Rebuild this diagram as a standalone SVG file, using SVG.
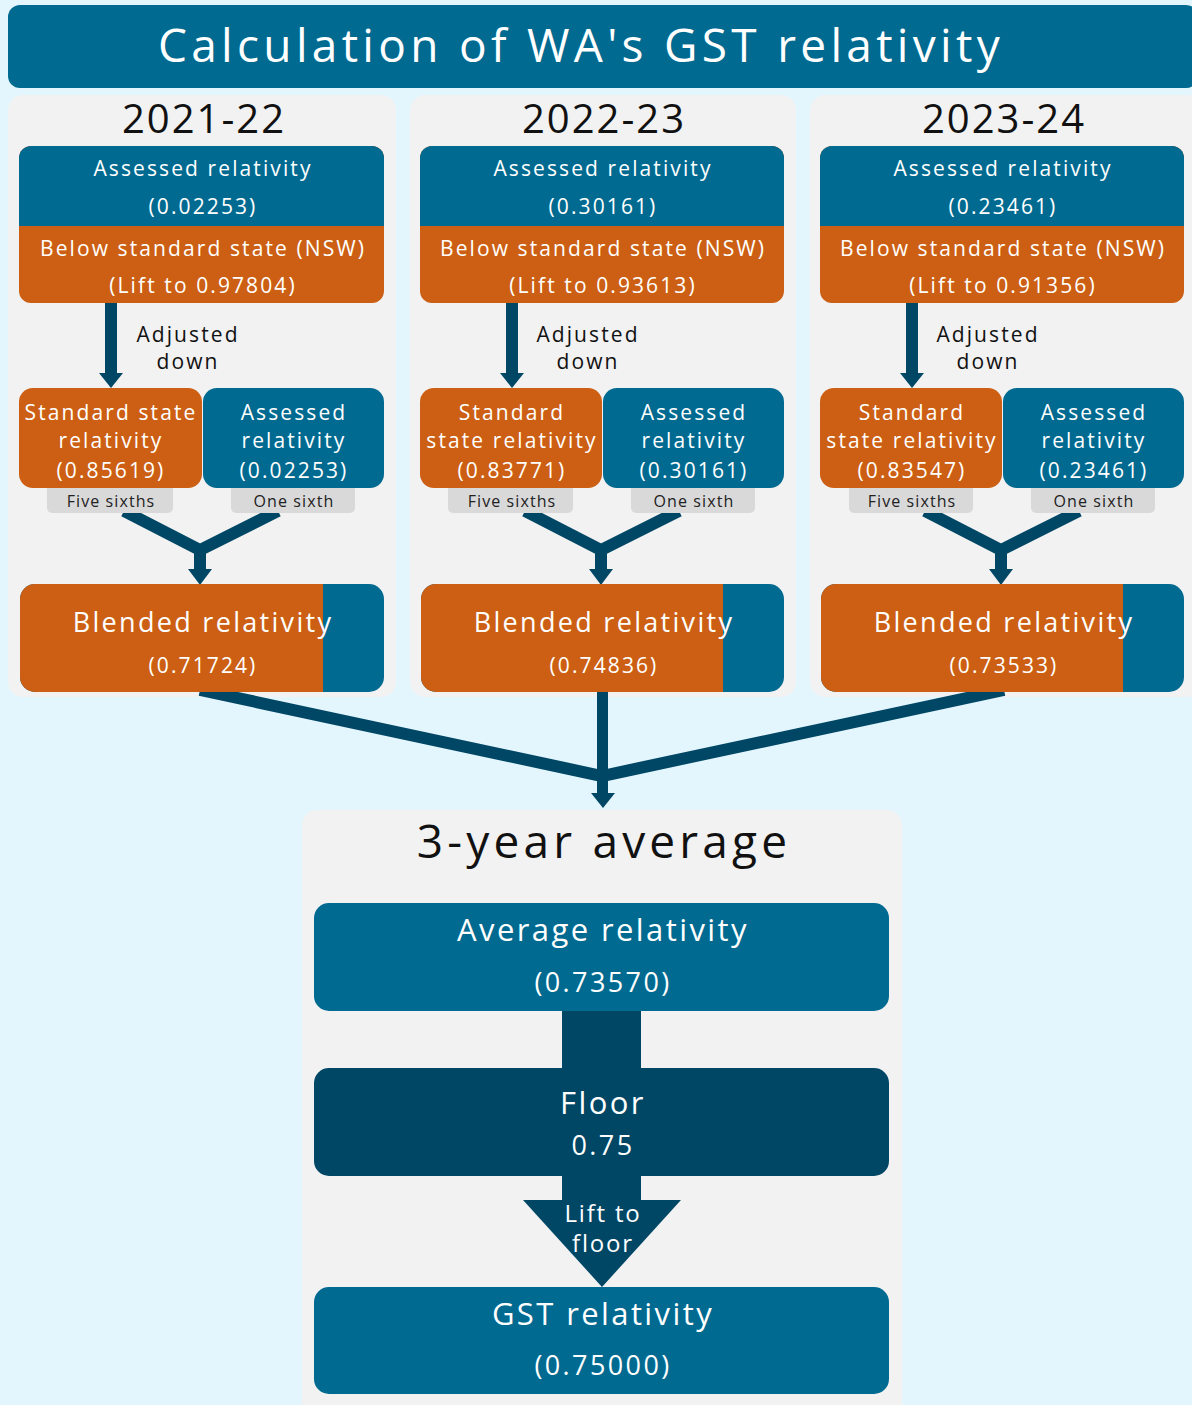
<svg xmlns="http://www.w3.org/2000/svg" width="1192" height="1405" viewBox="0 0 1192 1405">
<style>
text{font-family:"Open Sans","Noto Sans","Liberation Sans",sans-serif;text-anchor:middle}
.w{fill:#ffffff}
.k{fill:#111111}
.t22{font-size:21px;letter-spacing:2.1px}
.t28{font-size:27px;letter-spacing:2.3px}
.lab{font-size:16px;fill:#222222;letter-spacing:1.1px}
.blue{fill:#006a91}
.org{fill:#cc5f13}
.navy{fill:#004766}
.panel{fill:#f2f2f2}
.grey{fill:#d9d9d9}
.ln{stroke:#004766;stroke-width:12;fill:none}
.big{font-size:31px;letter-spacing:2.4px}
.num{font-size:27px;letter-spacing:2.4px}
</style>
<rect x="0" y="0" width="1192" height="1405" fill="#e4f6fd"/>
<g id="title">
<rect x="8" y="5" width="1190" height="83" rx="12" class="blue"/>
<text x="581" y="62" class="w" style="font-size:46px;letter-spacing:4.3px">Calculation of WA's GST relativity</text>
</g>
<g id="panels">
<rect x="8" y="95" width="388" height="602" rx="15" class="panel"/>
<rect x="410" y="95" width="386" height="602" rx="15" class="panel"/>
<rect x="810" y="95" width="392" height="602" rx="15" class="panel"/>
<rect x="302" y="810" width="600" height="610" rx="15" class="panel"/>
</g>
<g id="years">
<text x="204" y="133" class="k" style="font-size:40px;letter-spacing:2px">2021-22</text>
<text x="604" y="133" class="k" style="font-size:40px;letter-spacing:2px">2022-23</text>
<text x="1004" y="133" class="k" style="font-size:40px;letter-spacing:2px">2023-24</text>
</g>
<g id="connectors">
<rect x="105" y="303" width="12" height="71" class="navy"/>
<polygon points="99,373 123,373 111,388" class="navy"/>
<rect x="506" y="303" width="12" height="71" class="navy"/>
<polygon points="500,373 524,373 512,388" class="navy"/>
<rect x="906" y="303" width="12" height="71" class="navy"/>
<polygon points="900,373 924,373 912,388" class="navy"/>
<polyline points="124,511 200,550 278,511" class="ln"/>
<rect x="194" y="546" width="12" height="24" class="navy"/>
<polygon points="188,569 212,569 200,585" class="navy"/>
<polyline points="525,511 601,550 679,511" class="ln"/>
<rect x="595" y="546" width="12" height="24" class="navy"/>
<polygon points="589,569 613,569 601,585" class="navy"/>
<polyline points="925,511 1001,550 1079,511" class="ln"/>
<rect x="995" y="546" width="12" height="24" class="navy"/>
<polygon points="989,569 1013,569 1001,585" class="navy"/>
<polyline points="200,690 602,776 1004,690" class="ln"/>
<rect x="597" y="690" width="11" height="104" class="navy"/>
<polygon points="591,793 615,793 603,808" class="navy"/>
<rect x="562" y="1010" width="79" height="60" class="navy"/>
<rect x="562" y="1174" width="79" height="28" class="navy"/>
<polygon points="523,1200 681,1200 602,1287" class="navy"/>
<text x="603" y="1222" class="w" style="font-size:24px;letter-spacing:1.8px">Lift to</text>
<text x="603" y="1252" class="w" style="font-size:24px;letter-spacing:1.8px">floor</text>
</g>
<g id="col1">
<g id="top1">
<rect x="19" y="146" width="365" height="157" rx="12" class="org"/>
<path d="M19,226 V158 A12,12 0 0 1 31,146 H372 A12,12 0 0 1 384,158 V226 Z" class="blue"/>
<text x="203" y="176" class="w t22">Assessed relativity</text>
<text x="203" y="214" class="w t22">(0.02253)</text>
<text x="203" y="256" class="w t22">Below standard state (NSW)</text>
<text x="203" y="293" class="w t22">(Lift to 0.97804)</text>
</g>
<text x="188" y="342" class="k t22">Adjusted</text>
<text x="188" y="369" class="k t22">down</text>
<g id="five1"><rect x="47" y="478" width="126" height="35" rx="5" class="grey"/><text x="111" y="507" class="lab">Five sixths</text></g>
<g id="one1"><rect x="231" y="478" width="124" height="35" rx="5" class="grey"/><text x="294" y="507" class="lab">One sixth</text></g>
<g id="std1"><rect x="19" y="388" width="183" height="100" rx="14" class="org"/>
<text x="111" y="420" class="w t22">Standard state</text><text x="111" y="448" class="w t22">relativity</text><text x="111" y="478" class="w t22">(0.85619)</text></g>
<g id="ass1"><rect x="203" y="388" width="181" height="100" rx="14" class="blue"/>
<text x="294" y="420" class="w t22">Assessed</text><text x="294" y="448" class="w t22">relativity</text><text x="294" y="478" class="w t22">(0.02253)</text></g>
<g id="blend1"><rect x="20" y="584" width="364" height="108" rx="15" class="blue"/>
<path d="M323,584 H35 A15,15 0 0 0 20,599 V677 A15,15 0 0 0 35,692 H323 Z" class="org"/>
<text x="203" y="632" class="w t28">Blended relativity</text><text x="203" y="673" class="w t22">(0.71724)</text></g>
</g>
<g id="col2">
<g id="top2">
<rect x="420" y="146" width="364" height="157" rx="12" class="org"/>
<path d="M420,226 V158 A12,12 0 0 1 432,146 H772 A12,12 0 0 1 784,158 V226 Z" class="blue"/>
<text x="603" y="176" class="w t22">Assessed relativity</text>
<text x="603" y="214" class="w t22">(0.30161)</text>
<text x="603" y="256" class="w t22">Below standard state (NSW)</text>
<text x="603" y="293" class="w t22">(Lift to 0.93613)</text>
</g>
<text x="588" y="342" class="k t22">Adjusted</text>
<text x="588" y="369" class="k t22">down</text>
<g id="five2"><rect x="448" y="478" width="125" height="35" rx="5" class="grey"/><text x="512" y="507" class="lab">Five sixths</text></g>
<g id="one2"><rect x="631" y="478" width="124" height="35" rx="5" class="grey"/><text x="694" y="507" class="lab">One sixth</text></g>
<g id="std2"><rect x="420" y="388" width="182" height="100" rx="14" class="org"/>
<text x="512" y="420" class="w t22">Standard</text><text x="512" y="448" class="w t22">state relativity</text><text x="512" y="478" class="w t22">(0.83771)</text></g>
<g id="ass2"><rect x="603" y="388" width="181" height="100" rx="14" class="blue"/>
<text x="694" y="420" class="w t22">Assessed</text><text x="694" y="448" class="w t22">relativity</text><text x="694" y="478" class="w t22">(0.30161)</text></g>
<g id="blend2"><rect x="421" y="584" width="363" height="108" rx="15" class="blue"/>
<path d="M723,584 H436 A15,15 0 0 0 421,599 V677 A15,15 0 0 0 436,692 H723 Z" class="org"/>
<text x="604" y="632" class="w t28">Blended relativity</text><text x="604" y="673" class="w t22">(0.74836)</text></g>
</g>
<g id="col3">
<g id="top3">
<rect x="820" y="146" width="364" height="157" rx="12" class="org"/>
<path d="M820,226 V158 A12,12 0 0 1 832,146 H1172 A12,12 0 0 1 1184,158 V226 Z" class="blue"/>
<text x="1003" y="176" class="w t22">Assessed relativity</text>
<text x="1003" y="214" class="w t22">(0.23461)</text>
<text x="1003" y="256" class="w t22">Below standard state (NSW)</text>
<text x="1003" y="293" class="w t22">(Lift to 0.91356)</text>
</g>
<text x="988" y="342" class="k t22">Adjusted</text>
<text x="988" y="369" class="k t22">down</text>
<g id="five3"><rect x="849" y="478" width="124" height="35" rx="5" class="grey"/><text x="912" y="507" class="lab">Five sixths</text></g>
<g id="one3"><rect x="1031" y="478" width="124" height="35" rx="5" class="grey"/><text x="1094" y="507" class="lab">One sixth</text></g>
<g id="std3"><rect x="820" y="388" width="182" height="100" rx="14" class="org"/>
<text x="912" y="420" class="w t22">Standard</text><text x="912" y="448" class="w t22">state relativity</text><text x="912" y="478" class="w t22">(0.83547)</text></g>
<g id="ass3"><rect x="1003" y="388" width="181" height="100" rx="14" class="blue"/>
<text x="1094" y="420" class="w t22">Assessed</text><text x="1094" y="448" class="w t22">relativity</text><text x="1094" y="478" class="w t22">(0.23461)</text></g>
<g id="blend3"><rect x="821" y="584" width="363" height="108" rx="15" class="blue"/>
<path d="M1123,584 H836 A15,15 0 0 0 821,599 V677 A15,15 0 0 0 836,692 H1123 Z" class="org"/>
<text x="1004" y="632" class="w t28">Blended relativity</text><text x="1004" y="673" class="w t22">(0.73533)</text></g>
</g>
<g id="avg3">
<text x="604" y="858" class="k" style="font-size:46px;letter-spacing:4.2px">3-year average</text>
</g>
<g id="average">
<rect x="314" y="903" width="575" height="108" rx="15" class="blue"/>
<text x="603" y="941" class="w big">Average relativity</text>
<text x="603" y="992" class="w num">(0.73570)</text>
</g>
<g id="floor">
<rect x="314" y="1068" width="575" height="108" rx="15" class="navy"/>
<text x="603" y="1114" class="w big">Floor</text>
<text x="603" y="1155" class="w num">0.75</text>
</g>
<g id="gst">
<rect x="314" y="1287" width="575" height="107" rx="15" class="blue"/>
<text x="603" y="1325" class="w big">GST relativity</text>
<text x="603" y="1375" class="w num">(0.75000)</text>
</g>
</svg>
